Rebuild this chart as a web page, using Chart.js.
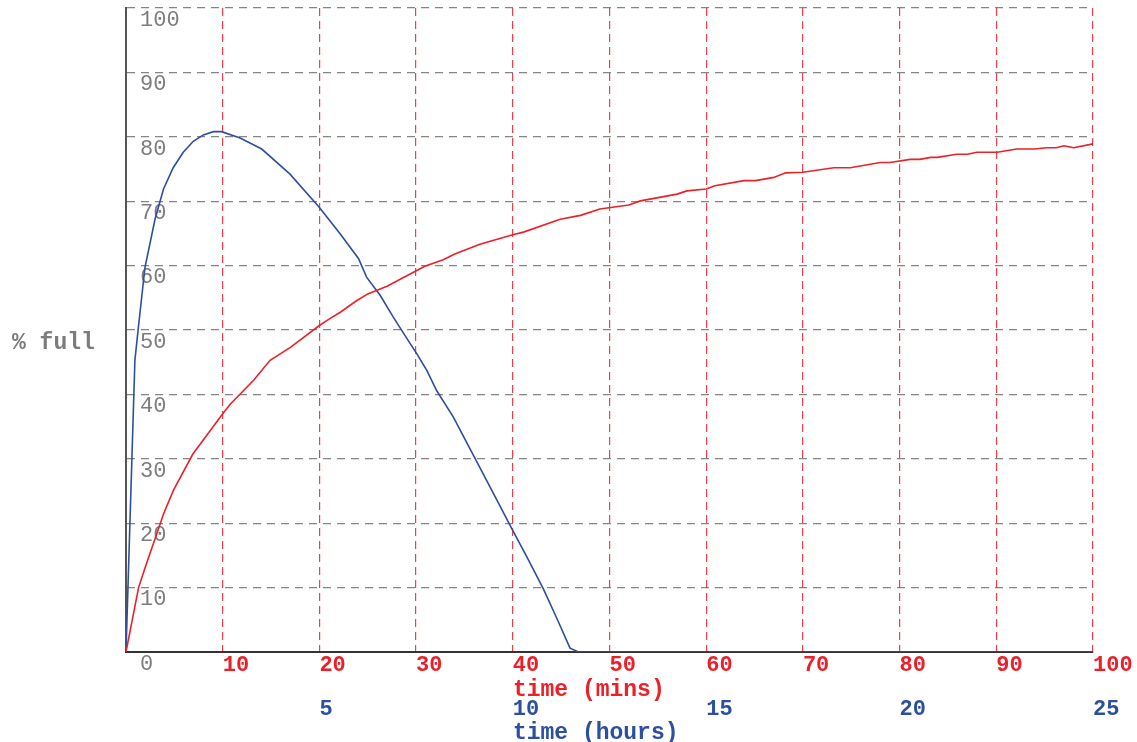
<!DOCTYPE html>
<html>
<head>
<meta charset="utf-8">
<script src="https://cdn.jsdelivr.net/npm/chart.js@4/dist/chart.umd.min.js"></script>
<style>
    html, body { margin: 0; padding: 0; background: #fff; }
    #wrap { width: 1137px; height: 742px; }
</style>
</head>
<body>
<div id="wrap"><canvas id="chart" width="1137" height="742"></canvas></div>
<script>
'use strict';

// ---------------------------------------------------------------------------
// data
// ---------------------------------------------------------------------------

// red curve: time in minutes -> % full
const minsX = [0, 1.3, 2, 3.9, 4.9, 6.9, 10, 10.8, 13.2, 14.9, 17, 20, 21, 22.2, 23.8, 25, 27, 28.5,
    30.9, 32.8, 34, 36.6, 40, 41.1, 44.9, 47, 49, 52, 53.2, 57, 58, 60, 60.9, 63.9, 65.1, 67, 68.2,
    70, 73.2, 74.9, 78, 79, 81.1, 82.1, 83.2, 83.9, 85.9, 87, 88, 90.1, 92.1, 94, 95.2, 96.2, 97, 98, 100];
const minsPct = [0, 10, 13.2, 21.5, 25.1, 30.7, 37, 38.5, 42.2, 45.3, 47.3, 50.7, 51.7, 52.8, 54.5, 55.6, 56.8, 58,
    59.9, 60.9, 61.8, 63.3, 64.8, 65.2, 67.2, 67.8, 68.8, 69.4, 70.05, 71.1, 71.6, 71.9, 72.4, 73.2, 73.2, 73.7, 74.4,
    74.5, 75.2, 75.2, 76, 76, 76.5, 76.5, 76.8, 76.8, 77.3, 77.3, 77.6, 77.6, 78.1, 78.1, 78.3, 78.3, 78.6, 78.3, 78.9];

// blue curve: time in hours -> % full
const hoursX = [0, 0.23, 0.32, 0.49, 0.75, 0.97, 1.22, 1.48, 1.74, 2.0, 2.26, 2.47, 2.95, 3.51, 4.24, 4.99,
    5.53, 6.01, 6.22, 6.57, 6.91, 7.26, 7.52, 7.78, 8.03, 8.46, 9.03, 9.59, 9.97, 10.36, 10.79, 11.14, 11.48, 11.7, 25];
const hoursPct = [0, 45.3, 50.4, 59.7, 67.2, 71.9, 75.2, 77.6, 79.3, 80.3, 80.8, 80.8, 79.8, 78.1, 74.2, 69.1,
    65, 61.1, 58.2, 55.4, 52, 48.7, 46.3, 43.7, 40.6, 36.5, 30, 23.6, 19.2, 14.8, 9.8, 5.2, 0.6, 0, 0];

// tick values
const pctTicks   = [0, 10, 20, 30, 40, 50, 60, 70, 80, 90, 100];
const minsTicks  = [0, 10, 20, 30, 40, 50, 60, 70, 80, 90, 100];
const hoursTicks = [0, 5, 10, 15, 20, 25];

// ---------------------------------------------------------------------------
// styles
// ---------------------------------------------------------------------------

const RED  = '#ea2129';
const BLUE = '#2c4f9e';
const GREY = '#7c7c7c';
const MONO = "'Courier New', 'Liberation Mono', monospace";

Chart.defaults.font.family = MONO;

const toPoints = (xs, ys) => xs.map((x, i) => ({ x, y: ys[i] }));
const setTicks = (vals) => (scale) => { scale.ticks = vals.map(v => ({ value: v })); };

// y-axis title is horizontal in the reference, so draw it by hand
const sideTitle = {
    id: 'sideTitle',
    afterDraw(chart) {
        const ctx = chart.ctx;
        ctx.save();
        ctx.font = `bold 23px ${MONO}`;
        ctx.fillStyle = GREY;
        ctx.textAlign = 'left';
        ctx.textBaseline = 'middle';
        ctx.fillText('% full', 12, 343);
        ctx.restore();
    },
};

new Chart(document.getElementById('chart'), {
    type: 'line',
    data: {
        datasets: [
            {
                label: 'time (mins)',
                data: toPoints(minsX, minsPct),
                xAxisID: 'x',
                yAxisID: 'y',
                borderColor: RED,
                borderWidth: 1.6,
                pointRadius: 0,
                tension: 0,
                fill: false,
            },
            {
                label: 'time (hours)',
                data: toPoints(hoursX, hoursPct),
                xAxisID: 'x2',
                yAxisID: 'y',
                borderColor: BLUE,
                borderWidth: 1.6,
                pointRadius: 0,
                tension: 0,
                fill: false,
            },
        ],
    },
    options: {
        responsive: false,
        animation: false,
        layout: { padding: { top: 8, left: 126, right: 44, bottom: 0 } },
        plugins: {
            legend: { display: false },
            tooltip: { enabled: false },
        },
        scales: {
            y: {
                type: 'linear',
                position: 'left',
                min: 0,
                max: 100,
                afterBuildTicks: setTicks(pctTicks),
                afterFit(scale) {
                    scale.width = 0;
                    scale.paddingTop = 0;
                    scale.paddingBottom = 0;
                },
                grid: { color: '#858585', lineWidth: 1.2, drawTicks: false },
                border: { display: true, color: '#555', width: 2, dash: [8, 6] },
                ticks: {
                    mirror: true,
                    padding: 14,
                    labelOffset: 12,
                    color: GREY,
                    font: { size: 22, family: MONO },
                },
            },
            x: {
                type: 'linear',
                position: 'bottom',
                weight: 0,
                min: 0,
                max: 100,
                afterBuildTicks: setTicks(minsTicks),
                afterFit(scale) {
                    scale.height = 46;
                    scale.paddingLeft = 0;
                    scale.paddingRight = 0;
                },
                grid: { color: 'rgba(236, 32, 42, 0.85)', lineWidth: 1.2, drawTicks: false },
                border: { display: true, color: '#333', width: 2, dash: [8, 5] },
                ticks: {
                    align: 'start',
                    padding: 0,
                    color: RED,
                    font: { size: 22, weight: 'bold', family: MONO },
                    callback: (v) => (v === 0 ? '' : String(v)),
                },
                title: {
                    display: true,
                    text: 'time (mins)   ',
                    color: RED,
                    padding: 0,
                    font: { size: 23, weight: 'bold', family: MONO, lineHeight: 0.7 },
                },
            },
            x2: {
                type: 'linear',
                position: 'bottom',
                weight: 1,
                min: 0,
                max: 25,
                afterBuildTicks: setTicks(hoursTicks),
                afterFit(scale) {
                    scale.height = 44;
                    scale.paddingLeft = 0;
                    scale.paddingRight = 0;
                },
                grid: { display: false, drawTicks: false },
                border: { display: false },
                ticks: {
                    align: 'start',
                    padding: 0,
                    color: BLUE,
                    font: { size: 22, weight: 'bold', family: MONO, lineHeight: 1 },
                    callback: (v) => (v === 0 ? '' : String(v)),
                },
                title: {
                    display: true,
                    text: 'time (hours)  ',
                    color: BLUE,
                    padding: 0,
                    font: { size: 23, weight: 'bold', family: MONO, lineHeight: 0.78 },
                },
            },
        },
    },
    plugins: [sideTitle],
});
</script>
</body>
</html>
